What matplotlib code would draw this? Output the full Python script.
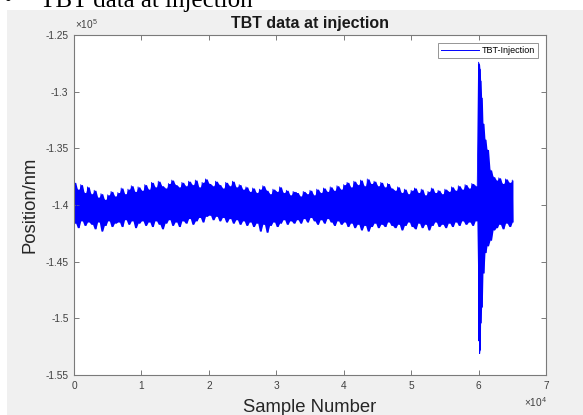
import numpy as np
import matplotlib
matplotlib.use("Agg")
import matplotlib.pyplot as plt
from matplotlib.patches import Rectangle
from matplotlib.ticker import FuncFormatter

plt.rcParams["font.family"] = ["Liberation Sans", "DejaVu Sans"]
plt.rcParams["mathtext.fontset"] = "custom"
plt.rcParams["mathtext.rm"] = "Liberation Sans"
plt.rcParams["mathtext.it"] = "Liberation Sans"
plt.rcParams["path.simplify"] = False

# =========================
# DATA (position in nm)
# envelope of the TBT trace: upper / lower edge every 500 samples
# =========================
MAIN_START, MAIN_STEP, MAIN_COUNT = 0, 500, 120

MAIN_HI = [
    -138000, -138600, -138200, -138900, -138400,
    -139000, -138700, -139300, -139000, -139500, -139100, -138800, -139200,
    -138900, -138500, -139000, -138600, -138300, -138800, -138400, -138700,
    -138200, -138600, -138000, -138400, -137900, -138300, -138500, -138100,
    -137800, -138200, -138400, -138000,
    -138300, -137900, -138200, -137800, -138400, -138000, -137700, -138100,
    -138300, -137900, -138200, -138500, -138000, -138300, -137900, -138400,
    -138200, -138600,
    -138400, -138800, -138500, -138900, -138600, -138300, -138700, -139000,
    -138600, -138800, -138400, -138900, -138700, -139100, -138800,
    -138900, -139200, -138800, -139000, -138700, -139100, -138600, -138900,
    -138500, -138800, -138400, -138700, -138300, -138600, -138200,
    -138000, -138400, -137900, -138200, -137800, -138300, -137700, -138100,
    -137900, -138300, -138000, -138400, -138100, -138500,
    -138700, -138400, -138900, -138600, -139000, -138700, -138500, -138900,
    -138600, -139100, -138800, -138500, -138900, -138700, -139000, -138600,
    -138800, -138400, -138700, -138300, -138600, -138200, -138500, -138100,
    -138300,
]

MAIN_LO = [
    -141600, -142000, -141400, -141800, -141500,
    -141700, -142100, -141500, -142300, -141800, -141400, -141900, -141600,
    -141500, -141900, -141300, -141700, -141400, -142000, -141600, -141400,
    -141800, -141500, -141900, -141400, -141700, -142100, -141600, -141300,
    -141800, -141500, -141900, -141400,
    -141600, -141200, -141700, -141400, -141100, -141500, -141000, -140900,
    -141300, -141000, -141400, -141100, -141500, -141200, -141600, -141300,
    -141700, -141400,
    -141800, -141500, -141900, -141600, -142300, -141700, -142400, -141800,
    -141500, -141900, -141600, -141300, -141700, -141400, -141600,
    -141300, -141600, -141200, -141500, -141100, -141400, -141700, -141300,
    -141600, -141200, -141500, -141800, -141400, -141700, -141500,
    -141900, -141600, -142000, -141700, -142200, -141800, -142300, -141900,
    -141600, -142000, -141700, -141900, -141500, -141800,
    -142000, -141700, -142200, -141800, -141500, -141900, -142100, -141600,
    -142000, -141700, -142200, -141800, -141500, -141900, -141700, -142000,
    -141600, -141900, -141500, -141800, -141400, -141700, -141500, -141800,
    -141400,
]

# injection kick at sample ~60000 and its decay
KICK_SAMPLES = [60000, 60100, 60200, 60300, 60450, 60650, 60950, 61250,
                61700, 62150, 62600, 63000, 63500, 64000, 64500, 65000]
KICK_HI = [-127400, -127600, -128000, -129000, -130500, -132800, -134200,
           -135100, -136900, -137500, -137800, -137600, -138100, -137700,
           -138000, -137800]
KICK_LO = [-152000, -153100, -152800, -150400, -149000, -146000, -144200,
           -143600, -143100, -142200, -142000, -141700, -142100, -141600,
           -141900, -141500]

X_TICKS = [0, 10000, 20000, 30000, 40000, 50000, 60000, 70000]
Y_TICKS = [-155000, -150000, -145000, -140000, -135000, -130000, -125000]

# =========================
# build the trace: it swings between the upper and lower edge
# =========================
samples = np.concatenate([MAIN_START + MAIN_STEP * np.arange(MAIN_COUNT),
                          KICK_SAMPLES]).astype(float)
hi = np.concatenate([MAIN_HI, KICK_HI]).astype(float)
lo = np.concatenate([MAIN_LO, KICK_LO]).astype(float)
gaps = np.diff(samples, append=samples[-1] + 200)

x = np.empty(2 * samples.size)
y = np.empty(2 * samples.size)
x[0::2] = samples
x[1::2] = samples + gaps / 2
y[0::2] = hi
y[1::2] = lo

# =========================
# FIGURE
# =========================
W, H = 583, 415
fig = plt.figure(figsize=(W / 100, H / 100), dpi=100, facecolor="white")
fig.patches.append(Rectangle((7 / W, 0), 1, (H - 10) / H, transform=fig.transFigure,
                             facecolor="#f0f0f0", edgecolor="none", zorder=-10))

# slide header, mostly cut at the top (as in the screenshot)
fig.text(4 / W, 1 - 7 / H, "\u2022", fontfamily="Liberation Serif", fontsize=18,
         va="baseline", ha="left")
fig.text(40 / W, 1 - 7 / H, "TBT data at injection", fontfamily="Liberation Serif",
         fontsize=18, va="baseline", ha="left")

ax = fig.add_axes([74 / W, 40 / H, 472 / W, 340 / H])
ax.set_facecolor("white")
# dense trace: solid core between the edges, thin swings on top
ax.fill_between(x, np.repeat(lo, 2), np.repeat(hi, 2), color="#0000ff", lw=0)
ax.plot(x, y, color="#0000ff", lw=0.6, label="TBT-Injection")

ax.set_xlim(0, 70000)
ax.set_ylim(-155000, -125000)
ax.set_xticks(X_TICKS)
ax.set_yticks(Y_TICKS)
ax.xaxis.set_major_formatter(FuncFormatter(lambda v, p: f"{v / 1e4:g}"))
ax.yaxis.set_major_formatter(FuncFormatter(lambda v, p: f"{v / 1e5:g}"))

for sp in ax.spines.values():
    sp.set_color("#7a7a7a")
    sp.set_linewidth(0.8)
ax.tick_params(direction="in", length=3.5, width=0.7, color="#7a7a7a",
               labelsize=7.3, labelcolor="#404040", top=True, right=True, pad=4)

ax.annotate(r"$\times10^{5}$", xy=(0, 1), xycoords="axes fraction",
            xytext=(1, 3), textcoords="offset points", ha="left", va="bottom",
            fontsize=7.3, color="#404040")
ax.annotate(r"$\times10^{4}$", xy=(1, 0), xycoords="axes fraction",
            xytext=(1, -19.5), textcoords="offset points", ha="right", va="center",
            fontsize=7.3, color="#404040")

ax.set_title("TBT data at injection", fontsize=11.5, fontweight="bold", pad=5,
             color="#1a1a1a")
ax.set_xlabel("Sample Number", fontsize=13.3, color="#262626", labelpad=6)
ax.set_ylabel("Position/nm", fontsize=13.3, color="#262626", labelpad=5)

leg = ax.legend(loc="upper right", fontsize=6.5, frameon=True, fancybox=False,
                borderaxespad=0.9, handlelength=4.2, borderpad=0.35,
                handletextpad=0.3)
leg.get_frame().set_edgecolor("#7a7a7a")
leg.get_frame().set_linewidth(0.7)
for line in leg.get_lines():
    line.set_linewidth(0.7)

fig.savefig("out.png", dpi=100)
